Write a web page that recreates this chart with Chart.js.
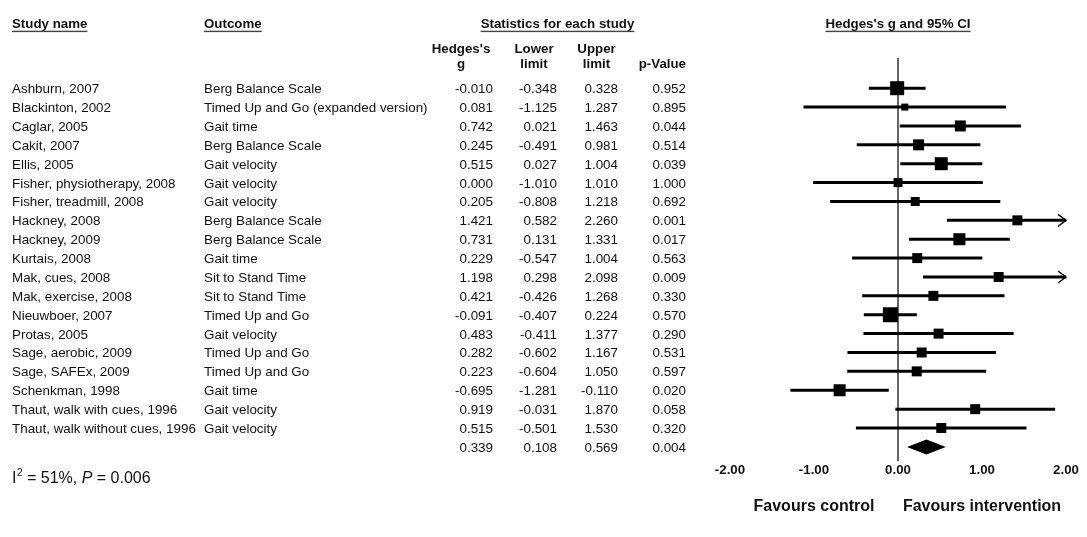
<!DOCTYPE html>
<html><head><meta charset="utf-8">
<script src="https://cdn.jsdelivr.net/npm/chart.js@4.4.1/dist/chart.umd.min.js"></script>
<style>html,body{margin:0;padding:0;background:#fff;}#wrap{width:1087px;height:537px;position:relative;}</style>
</head><body><div id="wrap"><canvas id="c" width="1087" height="537"></canvas></div>
<script>
// ---------- DATA ----------
const studies = ["Ashburn, 2007","Blackinton, 2002","Caglar, 2005","Cakit, 2007","Ellis, 2005","Fisher, physiotherapy, 2008","Fisher, treadmill, 2008","Hackney, 2008","Hackney, 2009","Kurtais, 2008","Mak, cues, 2008","Mak, exercise, 2008","Nieuwboer, 2007","Protas, 2005","Sage, aerobic, 2009","Sage, SAFEx, 2009","Schenkman, 1998","Thaut, walk with cues, 1996","Thaut, walk without cues, 1996"];
const outcomes = ["Berg Balance Scale","Timed Up and Go (expanded version)","Gait time","Berg Balance Scale","Gait velocity","Gait velocity","Gait velocity","Berg Balance Scale","Berg Balance Scale","Gait time","Sit to Stand Time","Sit to Stand Time","Timed Up and Go","Gait velocity","Timed Up and Go","Timed Up and Go","Gait time","Gait velocity","Gait velocity"];
const hedgesG = [-0.010,0.081,0.742,0.245,0.515,0.000,0.205,1.421,0.731,0.229,1.198,0.421,-0.091,0.483,0.282,0.223,-0.695,0.919,0.515];
const lowerLimit = [-0.348,-1.125,0.021,-0.491,0.027,-1.010,-0.808,0.582,0.131,-0.547,0.298,-0.426,-0.407,-0.411,-0.602,-0.604,-1.281,-0.031,-0.501];
const upperLimit = [0.328,1.287,1.463,0.981,1.004,1.010,1.218,2.260,1.331,1.004,2.098,1.268,0.224,1.377,1.167,1.050,-0.110,1.870,1.530];
const pValue = [0.952,0.895,0.044,0.514,0.039,1.000,0.692,0.001,0.017,0.563,0.009,0.330,0.570,0.290,0.531,0.597,0.020,0.058,0.320];
const pooledG = 0.339, pooledLower = 0.108, pooledUpper = 0.569, pooledP = 0.004;
const xTickValues = [-2,-1,0,1,2];
const xMin = -2, xMax = 2;
// marker sizes (relative weights, px side)
const markerSide = [14,7,11,11,13,9,9,10,12,10,10,10,15,10,10,10,12,10,10];

// ---------- STYLE ----------
const FONT = '"Liberation Sans", Arial, Helvetica, sans-serif';
const INK = '#111';

const n = studies.length;
const datasets = [];
for (let i = 0; i < n; i++) {
  datasets.push({
    type: 'line',
    data: [{x: Math.max(lowerLimit[i], xMin), y: i}, {x: Math.min(upperLimit[i], xMax), y: i}],
    borderColor: '#000', borderWidth: 3, pointRadius: 0, borderCapStyle: 'butt',
    showLine: true, fill: false, order: 2, clip: false
  });
}
datasets.push({
  type: 'scatter',
  data: hedgesG.map((g, i) => ({x: g, y: i})),
  pointStyle: 'rect',
  pointRadius: markerSide.map(s => s / Math.SQRT2),
  pointHoverRadius: markerSide.map(s => s / Math.SQRT2),
  backgroundColor: '#000', borderColor: '#000', borderWidth: 0,
  order: 1, clip: false
});

const tablePlugin = {
  id: 'tablePlugin',
  beforeDatasetsDraw(chart) {
    const ctx = chart.ctx, xs = chart.scales.x, a = chart.chartArea;
    const x0 = xs.getPixelForValue(0);
    ctx.save();
    ctx.strokeStyle = '#333'; ctx.lineWidth = 1.5;
    ctx.beginPath(); ctx.moveTo(x0, a.top); ctx.lineTo(x0, a.bottom); ctx.stroke();
    ctx.restore();
  },
  afterDatasetsDraw(chart) {
    const ctx = chart.ctx, xs = chart.scales.x, ys = chart.scales.y;
    ctx.save();
    // arrows for truncated CIs
    ctx.strokeStyle = '#000'; ctx.lineWidth = 1.4;
    for (let i = 0; i < n; i++) {
      const yp = ys.getPixelForValue(i);
      if (upperLimit[i] > xMax) {
        const xp = xs.getPixelForValue(xMax);
        ctx.beginPath(); ctx.moveTo(xp - 8, yp - 6); ctx.lineTo(xp, yp); ctx.lineTo(xp - 8, yp + 6); ctx.stroke();
      }
      if (lowerLimit[i] < xMin) {
        const xp = xs.getPixelForValue(xMin);
        ctx.beginPath(); ctx.moveTo(xp + 8, yp - 6); ctx.lineTo(xp, yp); ctx.lineTo(xp + 8, yp + 6); ctx.stroke();
      }
    }
    // pooled diamond
    const yd = ys.getPixelForValue(n);
    ctx.fillStyle = '#000';
    ctx.beginPath();
    ctx.moveTo(xs.getPixelForValue(pooledLower), yd);
    ctx.lineTo(xs.getPixelForValue(pooledG), yd - 7.5);
    ctx.lineTo(xs.getPixelForValue(pooledUpper), yd);
    ctx.lineTo(xs.getPixelForValue(pooledG), yd + 7.5);
    ctx.closePath(); ctx.fill();
    ctx.restore();
  },
  afterDraw(chart) {
    const ctx = chart.ctx, xs = chart.scales.x, ys = chart.scales.y;
    ctx.save();
    ctx.fillStyle = INK;
    ctx.textBaseline = 'alphabetic';
    const bold = 'bold 13.3px ' + FONT;
    const reg = '13.4px ' + FONT;
    function ul(s, x, y, align) {
      ctx.font = bold; ctx.textAlign = align; ctx.fillText(s, x, y);
      const w = ctx.measureText(s).width;
      const left = align === 'center' ? x - w / 2 : (align === 'right' ? x - w : x);
      ctx.fillStyle = '#444'; ctx.fillRect(left, y + 3, w, 1.4); ctx.fillStyle = INK;
    }
    ul('Study name', 12, 27.7, 'left');
    ul('Outcome', 204, 27.7, 'left');
    ul('Statistics for each study', 557.5, 27.7, 'center');
    ul("Hedges's g and 95% CI", xs.getPixelForValue(0), 27.7, 'center');
    ctx.font = bold; ctx.textAlign = 'center';
    ctx.fillText("Hedges's", 461, 52.8); ctx.fillText('g', 461, 67.8);
    ctx.fillText('Lower', 534, 52.8); ctx.fillText('limit', 534, 67.8);
    ctx.fillText('Upper', 596.5, 52.8); ctx.fillText('limit', 596.5, 67.8);
    ctx.textAlign = 'right'; ctx.fillText('p-Value', 686, 67.8);
    ctx.font = reg;
    for (let i = 0; i < n; i++) {
      const yb = ys.getPixelForValue(i) + 5;
      ctx.textAlign = 'left';
      ctx.fillText(studies[i], 12, yb);
      ctx.fillText(outcomes[i], 204, yb);
      ctx.textAlign = 'right';
      ctx.fillText(hedgesG[i].toFixed(3), 493, yb);
      ctx.fillText(lowerLimit[i].toFixed(3), 557, yb);
      ctx.fillText(upperLimit[i].toFixed(3), 618, yb);
      ctx.fillText(pValue[i].toFixed(3), 686, yb);
    }
    const ys2 = ys.getPixelForValue(n) + 5;
    ctx.fillText(pooledG.toFixed(3), 493, ys2);
    ctx.fillText(pooledLower.toFixed(3), 557, ys2);
    ctx.fillText(pooledUpper.toFixed(3), 618, ys2);
    ctx.fillText(pooledP.toFixed(3), 686, ys2);
    // heterogeneity
    ctx.textAlign = 'left';
    let x = 12; const yb = 483;
    ctx.font = '16px ' + FONT; ctx.fillText('I', x, yb); x += ctx.measureText('I').width;
    ctx.font = '10px ' + FONT; ctx.fillText('2', x + 0.5, yb - 7); x += ctx.measureText('2').width + 0.5;
    ctx.font = '16px ' + FONT; ctx.fillText(' = 51%, ', x, yb); x += ctx.measureText(' = 51%, ').width;
    ctx.font = 'italic 16px ' + FONT; ctx.fillText('P', x, yb); x += ctx.measureText('P').width;
    ctx.font = '16px ' + FONT; ctx.fillText(' = 0.006', x, yb);
    // favours
    ctx.font = 'bold 16px ' + FONT; ctx.textAlign = 'center';
    ctx.fillText('Favours control', xs.getPixelForValue(-1), 510.5);
    ctx.fillText('Favours intervention', xs.getPixelForValue(1), 510.5);
    ctx.restore();
  }
};

new Chart(document.getElementById('c'), {
  type: 'scatter',
  data: {datasets},
  options: {
    responsive: false, animation: false, devicePixelRatio: 1,
    layout: {padding: {left: 730, right: 21, top: 58, bottom: 58}},
    plugins: {legend: {display: false}, tooltip: {enabled: false}},
    events: [],
    scales: {
      x: {
        type: 'linear', min: xMin, max: xMax,
        afterBuildTicks: (s) => { s.ticks = xTickValues.map(v => ({value: v})); },
        ticks: {callback: (v) => Number(v).toFixed(2), color: INK, font: {family: FONT, size: 13.3, weight: 'bold'}, padding: 1, maxRotation: 0, autoSkip: false},
        grid: {display: false, drawTicks: false}, border: {display: false}
      },
      y: {type: 'linear', min: -1.6, max: 19.75, reverse: true, display: false}
    }
  },
  plugins: [tablePlugin]
});
</script>
</body></html>
